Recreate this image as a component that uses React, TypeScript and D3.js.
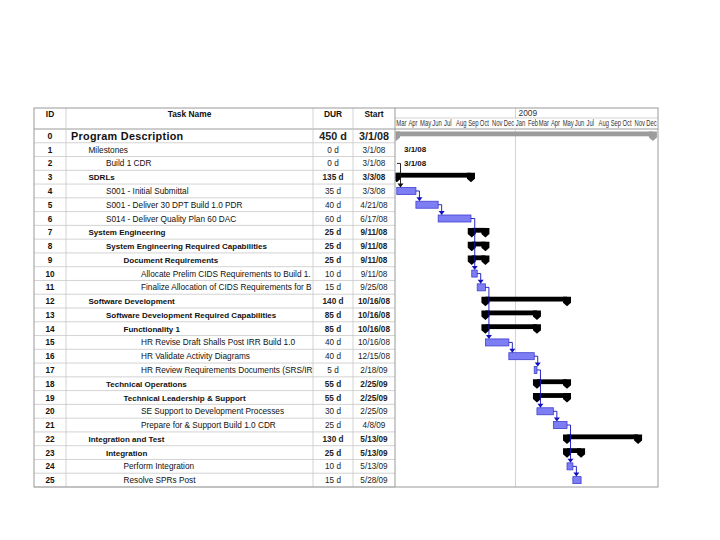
import React from "react";
import * as d3 from "d3";

const ids = [0, 1, 2, 3, 4, 5, 6, 7, 8, 9, 10, 11, 12, 13, 14, 15, 16, 17, 18, 19, 20, 21, 22, 23, 24, 25];
const taskNames = [
  "Program Description",
  "Milestones",
  "Build 1 CDR",
  "SDRLs",
  "S001 - Initial Submittal",
  "S001 - Deliver  30 DPT Build 1.0 PDR",
  "S014 - Deliver Quality Plan 60 DAC",
  "System Engineering",
  "System Engineering Required Capabilities",
  "Document Requirements",
  "Allocate Prelim CIDS Requirements to Build 1.",
  "Finalize Allocation of CIDS Requirements for B",
  "Software Development",
  "Software Development Required Capabilities",
  "Functionality 1",
  "HR Revise Draft Shalls Post IRR Build 1.0",
  "HR Validate Activity Diagrams",
  "HR Review Requirements Documents (SRS/IRS",
  "Technical Operations",
  "Technical Leadership & Support",
  "SE Support to Development Processes",
  "Prepare for & Support Build 1.0 CDR",
  "Integration and Test",
  "Integration",
  "Perform  Integration",
  "Resolve SPRs Post",
];
const durations = ["450 d", "0 d", "0 d", "135 d", "35 d", "40 d", "60 d", "25 d", "25 d", "25 d", "10 d", "15 d", "140 d", "85 d", "85 d", "40 d", "40 d", "5 d", "55 d", "55 d", "30 d", "25 d", "130 d", "25 d", "10 d", "15 d"];
const startDates = ["3/1/08", "3/1/08", "3/1/08", "3/3/08", "3/3/08", "4/21/08", "6/17/08", "9/11/08", "9/11/08", "9/11/08", "9/11/08", "9/25/08", "10/16/08", "10/16/08", "10/16/08", "10/16/08", "12/15/08", "2/18/09", "2/25/09", "2/25/09", "2/25/09", "4/8/09", "5/13/09", "5/13/09", "5/13/09", "5/28/09"];
// estimated bar end dates
const barEnds = ["12/19/09", "3/1/08", "3/1/08", "9/9/08", "4/21/08", "6/17/08", "9/9/08", "10/16/08", "10/16/08", "10/16/08", "9/25/08", "10/16/08", "5/13/09", "2/25/09", "2/25/09", "12/15/08", "2/18/09", "2/25/09", "5/13/09", "5/13/09", "4/8/09", "5/13/09", "11/11/09", "6/18/09", "5/28/09", "6/18/09"];
const outlineLevels = [0, 1, 2, 1, 2, 2, 2, 1, 2, 3, 4, 4, 1, 2, 3, 4, 4, 4, 2, 3, 4, 4, 1, 2, 3, 3];
const rowTypes = ["project", "milestone", "milestone", "summary", "task", "task", "task", "summary", "summary", "summary", "task", "task", "summary", "summary", "summary", "task", "task", "task", "summary", "summary", "task", "task", "summary", "summary", "task", "task"];
const links = [[2, 4], [4, 5], [5, 6], [6, 10], [10, 11], [11, 15], [15, 16], [16, 17], [17, 20], [20, 21], [21, 24], [24, 25]];
const monthLabels = ["Mar", "Apr", "May", "Jun", "Jul", "Aug", "Sep", "Oct", "Nov", "Dec", "Jan", "Feb", "Mar", "Apr", "May", "Jun", "Jul", "Aug", "Sep", "Oct", "Nov", "Dec"];
const yearLabels = ["2009"];
const columnHeaders = ["ID", "Task Name", "DUR", "Start"];

const parse = d3.timeParse("%m/%d/%y");

export default function App() {
  const L = 34, cId = 66, cName = 313, cDur = 353, cStart = 395, R = 658;
  const T = 108, hMid = 118, H = 129, B = 487;
  const rowH = (B - H) / ids.length;
  const rowTop = (i: number) => H + i * rowH;
  const rowMid = (i: number) => H + (i + 0.5) * rowH;

  const x = d3.scaleTime().domain([new Date(2008, 2, 1), new Date(2010, 0, 1)]).range([cStart + 1, R]);
  const months = x.ticks(d3.timeMonth.every(1)).filter((d) => d < new Date(2010, 0, 1));
  const years = [new Date(2009, 0, 1)];

  const font = "'Liberation Sans', Arial, sans-serif";
  const gridC = "#c8c8c8";
  const borderC = "#9a9a9a";
  const blueFill = "#7e7ef4";
  const blueStroke = "#4040d0";
  const linkC = "#1010c0";

  const summaryShape = (xs: number, xe: number, top: number, color: string, key: string) => {
    const bh = 4.8;
    const cw = 4;
    const cap = (cx: number) => `M${cx - cw},${top} L${cx + cw},${top} L${cx + cw},${top + 6} L${cx},${top + 9.5} L${cx - cw},${top + 6} Z`;
    return (
      <g key={key}>
        <rect x={xs} y={top} width={Math.max(0, xe - xs)} height={bh} fill={color} />
        <path d={cap(xs)} fill={color} />
        <path d={cap(xe)} fill={color} />
      </g>
    );
  };

  const starts = startDates.map((s) => x(parse(s) as Date));
  const ends = barEnds.map((s) => x(parse(s) as Date));

  return (
    <svg width={720} height={540} style={{ position: "absolute", left: 0, top: 0, background: "#fff" }} fontFamily={font}>
      <defs>
        <clipPath id="ganttClip">
          <rect x={cStart + 0.5} y={H} width={R - cStart - 0.5} height={B - H} />
        </clipPath>
        <clipPath id="nameClip">
          <rect x={cId} y={H} width={cName - cId - 0.5} height={B - H} />
        </clipPath>
      </defs>
      <rect x={0} y={0} width={720} height={540} fill="#fff" />

      {/* row lines in table */}
      {ids.map((_, i) => (
        <line key={"rl" + i} x1={L} x2={cStart} y1={rowTop(i + 1)} y2={rowTop(i + 1)} stroke={gridC} strokeWidth={0.8} />
      ))}
      {/* header separators */}
      <line x1={L} x2={R} y1={H} y2={H} stroke={borderC} strokeWidth={1} />
      <line x1={cStart} x2={R} y1={hMid} y2={hMid} stroke={gridC} strokeWidth={0.8} />
      {[cId, cName, cDur, cStart].map((cx, i) => (
        <line key={"cl" + i} x1={cx} x2={cx} y1={T} y2={B} stroke={i === 3 ? borderC : gridC} strokeWidth={i === 3 ? 1 : 0.8} />
      ))}
      {/* year divider */}
      {years.map((d, i) => (
        <g key={"yr" + i}>
          <line x1={x(d)} x2={x(d)} y1={T} y2={hMid} stroke={gridC} strokeWidth={0.8} />
          <line x1={x(d)} x2={x(d)} y1={H} y2={B} stroke={gridC} strokeWidth={0.8} />
          <text x={x(d) + 3} y={hMid - 2} fontSize={8.4} fill="#333">{yearLabels[i]}</text>
        </g>
      ))}
      {/* month labels, horizontally squeezed into their cells */}
      {months.map((d, i) => (
        <g key={"m" + i} transform={`translate(${x(d) + 0.3},${hMid + 8}) scale(0.7,1)`}>
          <text x={0} y={0} fontSize={8.4} fill="#333">{monthLabels[i]}</text>
        </g>
      ))}

      {/* column headers */}
      <text x={(L + cId) / 2} y={117} fontSize={8.4} fontWeight="bold" textAnchor="middle" fill="#111">{columnHeaders[0]}</text>
      <text x={(cId + cName) / 2} y={117} fontSize={8.4} fontWeight="bold" textAnchor="middle" fill="#111">{columnHeaders[1]}</text>
      <text x={(cName + cDur) / 2} y={117} fontSize={8.4} fontWeight="bold" textAnchor="middle" fill="#111">{columnHeaders[2]}</text>
      <text x={(cDur + cStart) / 2} y={117} fontSize={8.4} fontWeight="bold" textAnchor="middle" fill="#111">{columnHeaders[3]}</text>

      {/* table rows */}
      {ids.map((id, i) => {
        const type = rowTypes[i];
        const bold = type === "project" || type === "summary";
        const big = type === "project";
        const fs = big ? 10.8 : bold ? 8 : 8.25;
        const base = rowMid(i) + (big ? 3.8 : 3);
        return (
          <g key={"row" + i}>
            <text x={(L + cId) / 2} y={rowMid(i) + 3} fontSize={big ? 8.8 : 8.2} fontWeight="bold" textAnchor="middle" fill="#111">{id}</text>
            <text x={71 + outlineLevels[i] * 17.5} y={base} fontSize={fs} fontWeight={bold ? "bold" : "normal"} fill="#111" clipPath="url(#nameClip)" letterSpacing={big ? 0.3 : 0}>{taskNames[i]}</text>
            <text x={(cName + cDur) / 2} y={base} fontSize={big ? 10.8 : 8.2} fontWeight={bold ? "bold" : "normal"} textAnchor="middle" fill="#222">{durations[i]}</text>
            <text x={(cDur + cStart) / 2} y={base} fontSize={big ? 10.8 : 8.2} fontWeight={bold ? "bold" : "normal"} textAnchor="middle" fill="#222">{startDates[i]}</text>
          </g>
        );
      })}

      {/* gantt */}
      <g clipPath="url(#ganttClip)">
        {ids.map((_, i) => {
          const type = rowTypes[i];
          const top = rowTop(i) + 2.5;
          if (type === "project") return summaryShape(starts[i], ends[i], top, "#9c9c9c", "b" + i);
          if (type === "summary") return summaryShape(starts[i], ends[i], top, "#000", "b" + i);
          if (type === "task")
            return (
              <rect key={"b" + i} x={starts[i]} y={rowMid(i) - 3.5} width={Math.max(1.5, ends[i] - starts[i])} height={7} fill={blueFill} stroke={blueStroke} strokeWidth={0.8} />
            );
          return (
            <text key={"b" + i} x={starts[i] + 8} y={rowMid(i) + 2.5} fontSize={8} fontWeight="bold" fill="#111">{startDates[i]}</text>
          );
        })}
        {links.map(([a, b], k) => {
          const color = rowTypes[a] === "milestone" ? "#111" : linkC;
          const xa = rowTypes[a] === "milestone" ? starts[a] + 1 : ends[a];
          const ya = rowMid(a);
          const xl = Math.max(xa + 3.5, starts[b] + 3);
          const yb = rowMid(b) - 3.5;
          return (
            <g key={"lk" + k}>
              <path d={`M${xa},${ya} L${xl},${ya} L${xl},${yb - 3}`} fill="none" stroke={color} strokeWidth={0.9} />
              <path d={`M${xl - 3},${yb - 4} L${xl + 3},${yb - 4} L${xl},${yb} Z`} fill={color} />
            </g>
          );
        })}
      </g>

      {/* outer border */}
      <rect x={L} y={T} width={R - L} height={B - T} fill="none" stroke={borderC} strokeWidth={1} />
    </svg>
  );
}
